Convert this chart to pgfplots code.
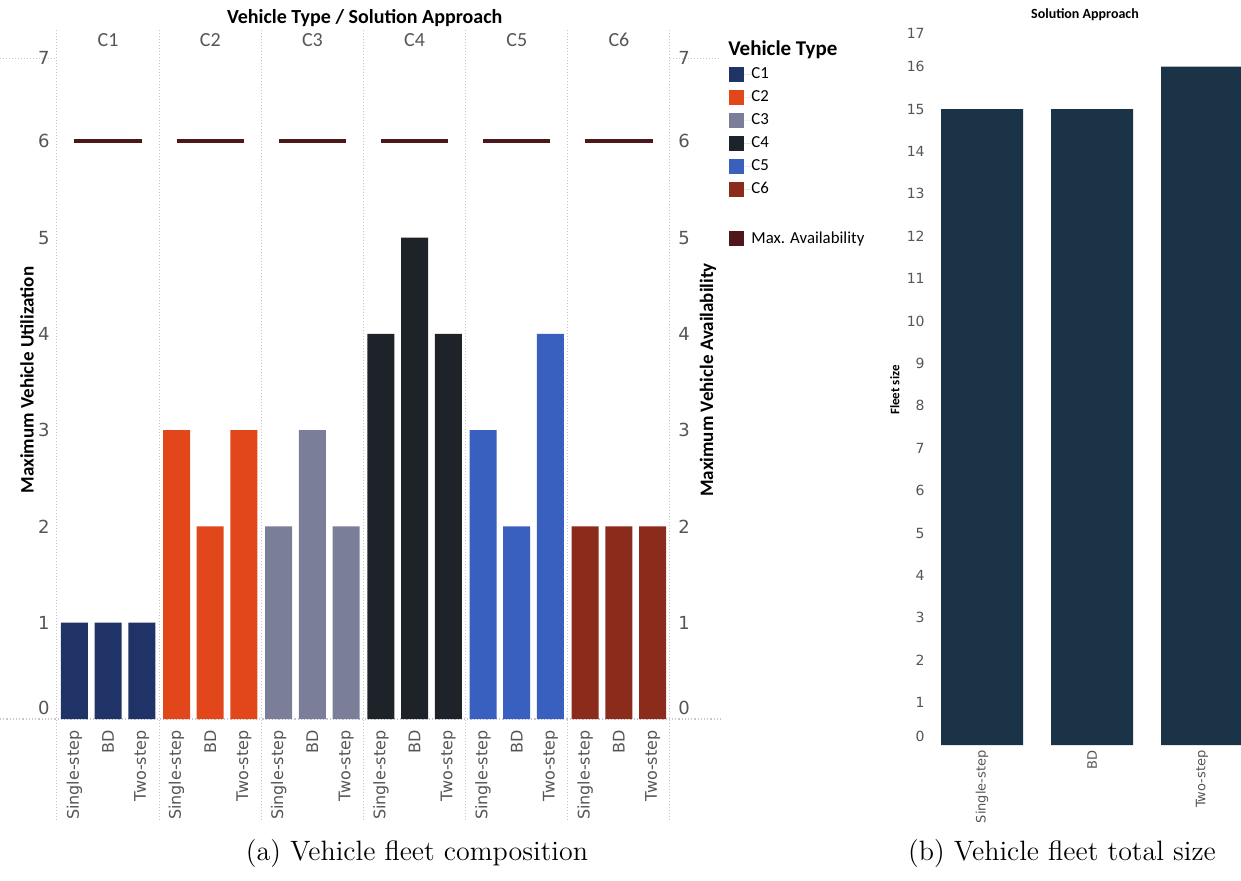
\documentclass[border=0pt]{standalone}
\usepackage{pgfplots}
\pgfplotsset{compat=1.18}
\usepackage{fontspec}
\newfontfamily\carl{Carlito}
\newfontfamily\dvs{DejaVu Sans}
\definecolor{cA}{HTML}{1F3366}
\definecolor{cB}{HTML}{E2461B}
\definecolor{cC}{HTML}{7A7E98}
\definecolor{cD}{HTML}{1E2229}
\definecolor{cE}{HTML}{3A60BF}
\definecolor{cF}{HTML}{8A2B1C}
\definecolor{cMax}{HTML}{4E1719}
\definecolor{cFleet}{HTML}{1B3346}
\definecolor{tickc}{HTML}{555555}
\definecolor{divc}{HTML}{C4C6D2}
\pgfplotsset{
  sqlegend/.style={legend image code/.code={\path[draw=none] (0pt,0pt) -- (11pt,0pt);\fill[##1, draw=none] (0pt,-3.75pt) rectangle (7.5pt,3.75pt);}},
}
\begin{document}
\begin{tikzpicture}
\path[use as bounding box] (0,0) rectangle (620.5pt,440pt);
% ---------------- left panel ----------------
\begin{axis}[
  scale only axis, width=306.5pt, height=337pt,
  at={(28.5pt,80.5pt)}, anchor=south west,
  xmin=0, xmax=6, ymin=0, ymax=7,
  clip=false,
  axis line style={draw=none}, tick style={draw=none},
  xtick={0.17,0.5,0.83,1.17,1.5,1.83,2.17,2.5,2.83,3.17,3.5,3.83,4.17,4.5,4.83,5.17,5.5,5.83},
  xticklabels={Single-step,BD,Two-step,Single-step,BD,Two-step,Single-step,BD,Two-step,Single-step,BD,Two-step,Single-step,BD,Two-step,Single-step,BD,Two-step},
  xticklabel style={rotate=90, anchor=east, inner sep=0pt, font=\dvs\fontsize{8}{9}\selectfont, text=tickc},
  xticklabel shift=5.5pt,
  ytick={0.11,1,2,3,4,5,6,6.87},
  yticklabels={0,1,2,3,4,5,6,7},
  yticklabel style={anchor=east, inner sep=0pt, font=\dvs\fontsize{9}{10}\selectfont, text=tickc},
  yticklabel shift=3.5pt,
  ylabel={Maximum Vehicle Utilization},
  every axis y label/.style={at={(rel axis cs:-0.049,0.503)}, rotate=90, anchor=center, font=\carl\bfseries\fontsize{9.5}{11}\selectfont},
  title={Vehicle Type / Solution Approach},
  every axis title/.style={at={(rel axis cs:0.502,1.040)}, anchor=center, font=\carl\bfseries\fontsize{10}{12}\selectfont},
  legend style={at={(rel axis cs:1.0865,0.9741)}, anchor=north west, draw=none, fill=none,
    font=\carl\fontsize{8.4}{9}\selectfont, row sep=4pt,
    nodes={inner sep=0pt, text height=6pt, text depth=1.5pt}},
  legend cell align=left,
]
% dividers
\foreach \g in {0,1,2,3,4,5,6}{
  \edef\tmp{\noexpand\draw[divc, densely dotted, line width=0.5pt] (axis cs:\g,-1.05) -- (axis cs:\g,7.16);}\tmp
}
\draw[divc, densely dotted, line width=0.6pt] (axis cs:-0.558,0) -- (axis cs:6.49,0);
\draw[divc, densely dotted, line width=0.5pt] (axis cs:-0.558,6.86) -- (axis cs:0,6.86);
\draw[divc, densely dotted, line width=0.5pt] (axis cs:6,6.86) -- (axis cs:6.49,6.86);
\addplot[ybar, bar width=13.5pt, bar shift=0pt, fill=cA, draw=none, sqlegend] coordinates {(0.17,1) (0.5,1) (0.83,1)};
\addlegendentry{C1}
\addplot[ybar, bar width=13.5pt, bar shift=0pt, fill=cB, draw=none, sqlegend] coordinates {(1.17,3) (1.5,2) (1.83,3)};
\addlegendentry{C2}
\addplot[ybar, bar width=13.5pt, bar shift=0pt, fill=cC, draw=none, sqlegend] coordinates {(2.17,2) (2.5,3) (2.83,2)};
\addlegendentry{C3}
\addplot[ybar, bar width=13.5pt, bar shift=0pt, fill=cD, draw=none, sqlegend] coordinates {(3.17,4) (3.5,5) (3.83,4)};
\addlegendentry{C4}
\addplot[ybar, bar width=13.5pt, bar shift=0pt, fill=cE, draw=none, sqlegend] coordinates {(4.17,3) (4.5,2) (4.83,4)};
\addlegendentry{C5}
\addplot[ybar, bar width=13.5pt, bar shift=0pt, fill=cF, draw=none, sqlegend] coordinates {(5.17,2) (5.5,2) (5.83,2)};
\addlegendentry{C6}
\addlegendimage{legend image code/.code={\path[draw=none] (0pt,-5.5pt) -- (0pt,3.75pt);}}
\addlegendentry{}
\addplot[cMax, line width=2pt, unbounded coords=jump, mark=none,
  legend image code/.code={\path[draw=none] (0pt,0pt) -- (11pt,0pt);\fill[cMax, draw=none] (0pt,-3.75pt) rectangle (7.5pt,3.75pt);}]
  coordinates {(0.17,6) (0.83,6) (1,nan) (1.17,6) (1.83,6) (2,nan) (2.17,6) (2.83,6) (3,nan) (3.17,6) (3.83,6) (4,nan) (4.17,6) (4.83,6) (5,nan) (5.17,6) (5.83,6)};
\addlegendentry{Max. Availability}
% group labels
\foreach \g/\lab in {0/C1,1/C2,2/C3,3/C4,4/C5,5/C6}{
  \edef\tmp{\noexpand\node[font=\noexpand\carl\noexpand\fontsize{10}{12}\noexpand\selectfont, text=tickc] at (axis cs:\g.5,7.05) {\lab};}\tmp
}
\node[anchor=west, inner sep=0pt, font=\carl\bfseries\fontsize{10.5}{12}\selectfont] at (rel axis cs:1.0946,0.9926) {Vehicle Type};
\end{axis}
% right-side ticks of left panel
\begin{axis}[
  scale only axis, width=306.5pt, height=337pt,
  at={(28.5pt,80.5pt)}, anchor=south west,
  xmin=0, xmax=6, ymin=0, ymax=7,
  axis y line*=right, hide x axis,
  axis line style={draw=none}, tick style={draw=none},
  ytick={0.11,1,2,3,4,5,6,6.87},
  yticklabels={0,1,2,3,4,5,6,7},
  yticklabel style={anchor=west, inner sep=0pt, font=\dvs\fontsize{9}{10}\selectfont, text=tickc},
  yticklabel shift=4pt,
  ylabel={Maximum Vehicle Availability},
  every axis y label/.style={at={(rel axis cs:1.062,0.503)}, rotate=90, anchor=center, font=\carl\bfseries\fontsize{9.5}{11}\selectfont},
]
\addplot[draw=none, forget plot] coordinates {(0,0)};
\end{axis}
% ---------------- right panel ----------------
\begin{axis}[
  scale only axis, width=154.5pt, height=360.4pt,
  at={(466pt,67.5pt)}, anchor=south west,
  xmin=-0.4545, xmax=2.3545, ymin=0, ymax=17,
  axis line style={draw=none}, tick style={draw=none},
  xtick={0,1,2}, xticklabels={Single-step,BD,Two-step},
  xticklabel style={rotate=90, anchor=east, inner sep=0pt, font=\dvs\fontsize{6.5}{8}\selectfont, text=tickc},
  xticklabel shift=2.5pt,
  ytick={0.21,1,2,3,4,5,6,7,8,9,10,11,12,13,14,15,16,16.79},
  yticklabels={0,1,2,3,4,5,6,7,8,9,10,11,12,13,14,15,16,17},
  yticklabel style={anchor=east, inner sep=0pt, font=\dvs\fontsize{7}{8}\selectfont, text=tickc},
  yticklabel shift=3.5pt,
  ylabel={Fleet size},
  every axis y label/.style={at={(rel axis cs:-0.12,0.4925)}, rotate=90, anchor=center, font=\carl\bfseries\fontsize{6.5}{8}\selectfont},
  title={Solution Approach},
  every axis title/.style={at={(rel axis cs:0.495,1.0128)}, anchor=center, font=\carl\bfseries\fontsize{7}{8}\selectfont},
]
\addplot[ybar, bar width=41pt, bar shift=0pt, fill=cFleet, draw=none] coordinates {(0,15) (1,15) (2,16)};
\end{axis}
% captions
\node[font=\fontsize{14}{16}\selectfont] at (208.5pt,13pt) {(a) Vehicle fleet composition};
\node[font=\fontsize{14}{16}\selectfont] at (531pt,13pt) {(b) Vehicle fleet total size};
\end{tikzpicture}
\end{document}
